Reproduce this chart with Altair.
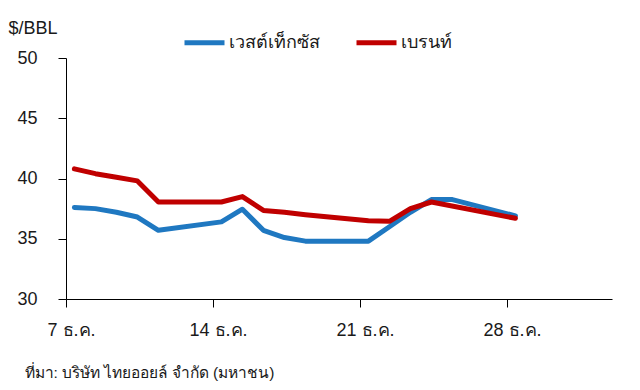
import altair as alt
import pandas as pd

# WTI (เวสต์เท็กซัส) — day of December, price $/BBL
wti_days = [7, 8, 9, 10, 11, 14, 15, 16, 17, 18, 21, 22, 23, 24, 25, 28]
wti_vals = [37.6, 37.5, 37.2, 36.8, 35.7, 36.4, 37.45, 35.7, 35.1, 34.8, 34.8, 36.0, 37.2, 38.25, 38.25, 36.9]

# Brent (เบรนท์)
brent_days = [7, 8, 9, 10, 11, 14, 15, 16, 17, 18, 21, 22, 23, 24, 28]
brent_vals = [40.8, 40.4, 40.1, 39.8, 38.05, 38.05, 38.5, 37.35, 37.2, 37.0, 36.5, 36.45, 37.5, 38.05, 36.7]

series_names = ["เวสต์เท็กซัส", "เบรนท์"]
series_colors = ["#1f78c1", "#c00000"]

x_ticks = [7, 14, 21, 28]
y_ticks = [30, 35, 40, 45, 50]

rows = []
for d, v in zip(wti_days, wti_vals):
    rows.append({"day": d, "price": v, "series": series_names[0]})
for d, v in zip(brent_days, brent_vals):
    rows.append({"day": d, "price": v, "series": series_names[1]})
df = pd.DataFrame(rows)

FONT = "Liberation Sans, Arial, Noto Sans, sans-serif"

chart = (
    alt.Chart(df)
    .transform_calculate(xpos="datum.day + 0.4")
    .mark_line(strokeWidth=5, strokeCap="round", strokeJoin="round")
    .encode(
        x=alt.X(
            "xpos:Q",
            scale=alt.Scale(domain=[7, 33], nice=False, zero=False),
            axis=alt.Axis(
                values=x_ticks,
                labelExpr="datum.value + ' ธ.ค.'",
                labelFlush=False,
                labelOffset=5,
                title="ที่มา: บริษัท ไทยออยล์ จำกัด (มหาชน)",
                titleX=-42,
                titleY=73,
                titleAlign="left",
                titleBaseline="middle",
                titleFontSize=15.5,
                titleFontWeight="normal",
                labelPadding=14,
                tickSize=8,
                grid=False,
            ),
        ),
        y=alt.Y(
            "price:Q",
            scale=alt.Scale(domain=[30, 50], nice=False, zero=False),
            axis=alt.Axis(
                values=y_ticks,
                title="$/BBL",
                titleAngle=0,
                titleX=-58,
                titleY=-30,
                titleAlign="left",
                titleBaseline="middle",
                titleFontSize=18,
                titleFontWeight="normal",
                labelPadding=21,
                tickSize=8,
                grid=False,
            ),
        ),
        color=alt.Color(
            "series:N",
            scale=alt.Scale(domain=series_names, range=series_colors),
            sort=series_names,
            legend=alt.Legend(
                title=None,
                orient="none",
                legendX=116,
                legendY=-38,
                direction="horizontal",
                symbolType="stroke",
                symbolStrokeWidth=5,
                symbolSize=1600,
                labelFontSize=18,
                labelOffset=2,
                columnPadding=26,
            ),
        ),
    )
    .properties(
        width=546,
        height=241,
        autosize=alt.AutoSizeParams(type="none"),
        padding={"left": 58, "top": 50, "right": 20, "bottom": 90},
    )
    .configure_view(stroke=None)
    .configure_axis(
        domainColor="#000000",
        domainWidth=1,
        tickColor="#000000",
        tickWidth=1,
        labelFont=FONT,
        titleFont=FONT,
        labelFontSize=18,
        labelColor="#1a1a1a",
        titleColor="#1a1a1a",
    )
    .configure_legend(labelFont=FONT, labelColor="#1a1a1a")
)

chart.save("out.html", embed_options={"renderer": "svg", "actions": False})
